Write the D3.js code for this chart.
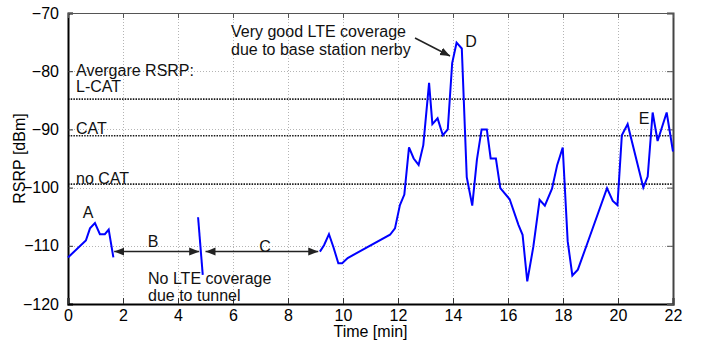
<!DOCTYPE html>
<html>
<head>
<meta charset="utf-8">
<script src="https://cdn.jsdelivr.net/npm/d3@7/dist/d3.min.js"></script>
<style>
  html, body { margin: 0; padding: 0; background: #fff; }
  svg { display: block; font-family: "Liberation Sans", Arial, sans-serif; }
</style>
</head>
<body>
<svg id="chart" width="712" height="340"></svg>
<script>
// RSRP measurement along the route, split into segments where LTE was available
const segA_time = [0, 0.65, 0.8, 0.98, 1.16, 1.34, 1.48, 1.65];
const segA_rsrp = [-112, -109.1, -107.0, -106.1, -108.0, -108.0, -107.2, -112];

const segB_time = [4.73, 4.9];
const segB_rsrp = [-105.1, -115.0];

const segC_time = [9.16, 9.31, 9.49, 9.65, 9.83, 9.97, 10.17, 11.71, 11.89, 12.07, 12.23, 12.4, 12.57, 12.75,
  12.92, 13.13, 13.25, 13.44, 13.63, 13.81, 13.97, 14.13, 14.32, 14.5, 14.7, 14.87, 15.04, 15.23, 15.37,
  15.56, 15.72, 16.06, 16.38, 16.53, 16.7, 16.92, 17.15, 17.34, 17.6, 17.79, 17.99, 18.17, 18.34, 18.54,
  18.86, 19.6, 19.81, 19.98, 20.14, 20.35, 20.92, 21.08, 21.26, 21.44, 21.77, 22.0];
const segC_rsrp = [-111, -109.9, -108, -110.2, -113, -113, -112.1, -108.1, -107, -103, -101.2, -93.1, -95, -96.1,
  -92.7, -82, -89.1, -88.1, -91, -90, -78.6, -75.1, -76.1, -98.2, -103.1, -95.2, -90, -90, -95,
  -95, -100.1, -102, -106.4, -108.1, -116.1, -110.2, -102.1, -103.1, -100.2, -96.1, -93.1, -109.2, -115.1, -114.1,
  -109.9, -100.1, -102.3, -103, -91, -89.1, -100, -98.1, -87.1, -92, -87.1, -93.8];

// Average RSRP per device category
const avgNames = ["L-CAT", "CAT", "no CAT"];
const avgRsrp = [-84.8, -91.1, -99.4];

const xTicks = [0, 2, 4, 6, 8, 10, 12, 14, 16, 18, 20, 22];
const yTicks = [-120, -110, -100, -90, -80, -70];

const W = 712, H = 340;
const m = { top: 13, right: 39, bottom: 36, left: 68 };
const pw = W - m.left - m.right, ph = H - m.top - m.bottom;

const svg = d3.select("#chart");
const x = d3.scaleLinear().domain([0, 22]).range([m.left, m.left + pw]);
const y = d3.scaleLinear().domain([-120, -70]).range([m.top + ph, m.top]);

// dotted grid
const grid = svg.append("g").attr("stroke", "#b4b4b4").attr("stroke-width", 1).attr("stroke-dasharray", "1,2");
grid.selectAll("line.gx").data(xTicks.slice(1, -1)).join("line")
  .attr("x1", d => x(d) + 0.5).attr("x2", d => x(d) + 0.5)
  .attr("y1", m.top).attr("y2", m.top + ph);
grid.selectAll("line.gy").data(yTicks.slice(1, -1)).join("line")
  .attr("y1", d => Math.round(y(d)) + 0.5).attr("y2", d => Math.round(y(d)) + 0.5)
  .attr("x1", m.left).attr("x2", m.left + pw);

// average lines
svg.append("g").selectAll("line").data(avgRsrp).join("line")
  .attr("x1", m.left).attr("x2", m.left + pw)
  .attr("y1", d => y(d)).attr("y2", d => y(d))
  .attr("stroke", "#1a1a1a").attr("stroke-width", 1.6).attr("stroke-dasharray", "1.5,1.2");

// axes (MATLAB-like box with inward ticks)
const fmt = d3.format("d");
const axL = svg.append("g").attr("transform", `translate(${m.left},0)`)
  .call(d3.axisLeft(y).tickValues(yTicks).tickSize(-5).tickPadding(9).tickFormat(fmt));
const axB = svg.append("g").attr("transform", `translate(0,${m.top + ph})`)
  .call(d3.axisBottom(x).tickValues(xTicks).tickSize(-6).tickPadding(6).tickFormat(fmt));
const axR = svg.append("g").attr("transform", `translate(${m.left + pw},0)`)
  .call(d3.axisRight(y).tickValues(yTicks).tickSize(-6).tickFormat(""));
const axT = svg.append("g").attr("transform", `translate(0,${m.top})`)
  .call(d3.axisTop(x).tickValues(xTicks).tickSize(-5).tickFormat(""));
[axL, axB].forEach(a => {
  a.selectAll("text").attr("font-size", 16).attr("fill", "#000")
    .attr("font-family", "Liberation Sans, Arial, sans-serif");
  a.select(".domain").attr("stroke", "#000").attr("stroke-width", 2);
  a.selectAll(".tick line").attr("stroke", "#333");
});
axR.select(".domain").attr("stroke", "#444").attr("stroke-width", 2);
axT.select(".domain").attr("stroke", "#555").attr("stroke-width", 1);
[axR, axT].forEach(a => a.selectAll(".tick line").attr("stroke", "#555"));

// axis titles
svg.append("text").attr("x", x(11)).attr("y", 337).attr("text-anchor", "middle")
  .attr("font-size", 16).text("Time [min]");
svg.append("text").attr("transform", `translate(25,${m.top + ph / 2}) rotate(-90)`)
  .attr("text-anchor", "middle").attr("font-size", 16).text("RSRP [dBm]");

// measurement line
const line = d3.line().x(d => x(d[0])).y(d => y(d[1]));
const segs = [[segA_time, segA_rsrp], [segB_time, segB_rsrp], [segC_time, segC_rsrp]];
svg.append("g").selectAll("path").data(segs.map(([t, v]) => d3.zip(t, v))).join("path")
  .attr("d", line).attr("fill", "none").attr("stroke", "#0000ff")
  .attr("stroke-width", 2).attr("stroke-linejoin", "miter");

// arrow markers
const defs = svg.append("defs");
defs.append("marker").attr("id", "ah").attr("viewBox", "0 0 10 10")
  .attr("refX", 10).attr("refY", 5).attr("markerWidth", 10).attr("markerHeight", 10)
  .attr("markerUnits", "userSpaceOnUse").attr("orient", "auto-start-reverse")
  .append("path").attr("d", "M0,1 L10,5 L0,9 z").attr("fill", "#222");

// gap arrows B and C
const gapArrows = [[1.68, 4.77], [5.0, 9.1]];
svg.append("g").selectAll("line").data(gapArrows).join("line")
  .attr("x1", d => x(d[0])).attr("x2", d => x(d[1]))
  .attr("y1", y(-111)).attr("y2", y(-111))
  .attr("stroke", "#222").attr("stroke-width", 1.5)
  .attr("marker-start", "url(#ah)").attr("marker-end", "url(#ah)");

// arrow pointing at the peak D
svg.append("line").attr("x1", 415).attr("y1", 38).attr("x2", 450).attr("y2", 56)
  .attr("stroke", "#222").attr("stroke-width", 1.5).attr("marker-end", "url(#ah)");

// annotations
const notes = [
  { t: "A", x: 88, y: 218, a: "middle" },
  { t: "B", x: 153, y: 247, a: "middle" },
  { t: "C", x: 265, y: 252, a: "middle" },
  { t: "D", x: 471, y: 47, a: "middle" },
  { t: "E", x: 644, y: 124, a: "middle" },
  { t: "No LTE coverage", x: 148, y: 284, a: "start" },
  { t: "due to tunnel", x: 148, y: 301, a: "start" },
  { t: "Very good LTE coverage", x: 231, y: 37, a: "start" },
  { t: "due to base station nerby", x: 231, y: 55, a: "start" },
  { t: "Avergare RSRP:", x: 76, y: 76, a: "start" },
  { t: avgNames[0] , x: 76, y: 92, a: "start" },
  { t: avgNames[1], x: 76, y: 134, a: "start" },
  { t: avgNames[2], x: 76, y: 184, a: "start" }
];
svg.append("g").selectAll("text").data(notes).join("text")
  .attr("x", d => d.x).attr("y", d => d.y).attr("text-anchor", d => d.a)
  .attr("font-size", 16).attr("fill", "#111").text(d => d.t);
</script>
</body>
</html>
